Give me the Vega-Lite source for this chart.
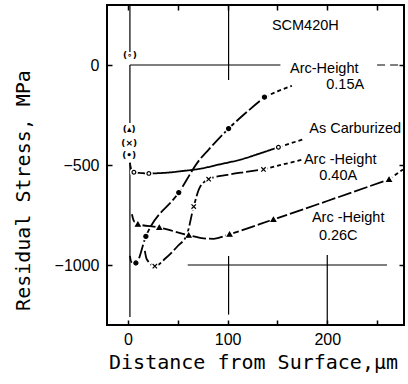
{
  "$schema": "https://vega.github.io/schema/vega-lite/v6.json",
  "width": 297,
  "height": 320,
  "autosize": "none",
  "padding": {"left": 107, "top": 5, "right": 4, "bottom": 59},
  "background": "white",
  "config": {
    "view": {"stroke": "black", "strokeWidth": 2},
    "axis": {"grid": false, "domain": false}
  },
  "datasets": {
    "curves": [
      {"s": "As Carburized", "x": 2, "y": -488, "p": "main", "m": 0},
      {"s": "As Carburized", "x": 3.5, "y": -525, "p": "main", "m": 0},
      {"s": "As Carburized", "x": 6, "y": -536, "p": "main", "m": 1},
      {"s": "As Carburized", "x": 21, "y": -542, "p": "main", "m": 1},
      {"s": "As Carburized", "x": 40, "y": -538, "p": "main", "m": 0},
      {"s": "As Carburized", "x": 55, "y": -530, "p": "main", "m": 0},
      {"s": "As Carburized", "x": 72, "y": -519, "p": "main", "m": 0},
      {"s": "As Carburized", "x": 92, "y": -497, "p": "main", "m": 0},
      {"s": "As Carburized", "x": 113, "y": -473, "p": "main", "m": 0},
      {"s": "As Carburized", "x": 132, "y": -443, "p": "main", "m": 0},
      {"s": "As Carburized", "x": 151, "y": -411, "p": "main", "m": 1},
      {"s": "As Carburized", "x": 151, "y": -411, "p": "tail", "m": 0},
      {"s": "As Carburized", "x": 175, "y": -373, "p": "tail", "m": 0},

      {"s": "0.15A", "x": 2, "y": -954, "p": "main", "m": 0},
      {"s": "0.15A", "x": 3.5, "y": -985, "p": "main", "m": 0},
      {"s": "0.15A", "x": 8, "y": -990, "p": "main", "m": 1},
      {"s": "0.15A", "x": 18, "y": -857, "p": "main", "m": 1},
      {"s": "0.15A", "x": 51, "y": -638, "p": "main", "m": 1},
      {"s": "0.15A", "x": 72, "y": -473, "p": "main", "m": 0},
      {"s": "0.15A", "x": 81, "y": -423, "p": "main", "m": 0},
      {"s": "0.15A", "x": 101, "y": -318, "p": "main", "m": 1},
      {"s": "0.15A", "x": 120, "y": -232, "p": "main", "m": 0},
      {"s": "0.15A", "x": 137, "y": -161, "p": "main", "m": 1},
      {"s": "0.15A", "x": 137, "y": -161, "p": "tail", "m": 0},
      {"s": "0.15A", "x": 150, "y": -132, "p": "tail", "m": 0},
      {"s": "0.15A", "x": 164.5, "y": -104, "p": "tail", "m": 0},

      {"s": "0.40A", "x": 17, "y": -929, "p": "main", "m": 0},
      {"s": "0.40A", "x": 18.8, "y": -970, "p": "main", "m": 0},
      {"s": "0.40A", "x": 27, "y": -1006, "p": "main", "m": 1},
      {"s": "0.40A", "x": 38, "y": -965, "p": "main", "m": 0},
      {"s": "0.40A", "x": 50, "y": -905, "p": "main", "m": 0},
      {"s": "0.40A", "x": 59, "y": -850, "p": "main", "m": 0},
      {"s": "0.40A", "x": 66, "y": -708, "p": "main", "m": 1},
      {"s": "0.40A", "x": 72, "y": -613, "p": "main", "m": 0},
      {"s": "0.40A", "x": 81, "y": -571, "p": "main", "m": 1},
      {"s": "0.40A", "x": 100, "y": -549, "p": "main", "m": 0},
      {"s": "0.40A", "x": 118, "y": -535, "p": "main", "m": 0},
      {"s": "0.40A", "x": 136, "y": -522, "p": "main", "m": 1},
      {"s": "0.40A", "x": 136, "y": -522, "p": "tail", "m": 0},
      {"s": "0.40A", "x": 155, "y": -498, "p": "tail", "m": 0},
      {"s": "0.40A", "x": 175, "y": -473, "p": "tail", "m": 0},

      {"s": "0.26C", "x": 4, "y": -746, "p": "main", "m": 0},
      {"s": "0.26C", "x": 6, "y": -780, "p": "main", "m": 0},
      {"s": "0.26C", "x": 10, "y": -796, "p": "main", "m": 1},
      {"s": "0.26C", "x": 31.5, "y": -812, "p": "main", "m": 1},
      {"s": "0.26C", "x": 45, "y": -830, "p": "main", "m": 0},
      {"s": "0.26C", "x": 61, "y": -851, "p": "main", "m": 1},
      {"s": "0.26C", "x": 76, "y": -867, "p": "main", "m": 0},
      {"s": "0.26C", "x": 86, "y": -869, "p": "main", "m": 0},
      {"s": "0.26C", "x": 102, "y": -846, "p": "main", "m": 1},
      {"s": "0.26C", "x": 146, "y": -772, "p": "main", "m": 1},
      {"s": "0.26C", "x": 200, "y": -680, "p": "main", "m": 0},
      {"s": "0.26C", "x": 262, "y": -572, "p": "main", "m": 1},
      {"s": "0.26C", "x": 262, "y": -572, "p": "tail", "m": 0},
      {"s": "0.26C", "x": 276, "y": -522, "p": "tail", "m": 0}
    ],
    "grid": [
      {"x": 2, "x2": 2, "y": 300, "y2": 65},
      {"x": 2, "x2": 2, "y": 0, "y2": -290},
      {"x": 2, "x2": 2, "y": -490, "y2": -1260},
      {"x": 2, "x2": 153, "y": 0, "y2": 0},
      {"x": 101, "x2": 101, "y": 300, "y2": -75},
      {"x": 60, "x2": 260, "y": -1000, "y2": -1000},
      {"x": 101, "x2": 101, "y": -955, "y2": -1248},
      {"x": 200, "x2": 200, "y": -950, "y2": -1300}
    ],
    "labels": [
      {"x": 178, "y": 194, "t": "SCM420H"},
      {"x": 197, "y": -20, "t": "Arc-Height"},
      {"x": 218, "y": -100, "t": "0.15A"},
      {"x": 228, "y": -318, "t": "As Carburized"},
      {"x": 213, "y": -473, "t": "Arc -Height"},
      {"x": 211, "y": -557, "t": "0.40A"},
      {"x": 221, "y": -766, "t": "Arc -Height"},
      {"x": 211, "y": -856, "t": "0.26C"}
    ],
    "surface": [
      {"x": 2, "y": 50, "t": "(∘)"},
      {"x": 1.3, "y": -320, "t": "(▴)"},
      {"x": 1.3, "y": -390, "t": "(×)"},
      {"x": 1.3, "y": -448, "t": "(•)"}
    ]
  },
  "resolve": {"axis": {"x": "independent", "y": "independent"}},
  "layer": [
    {
      "data": {"name": "grid"},
      "mark": {"type": "rule", "color": "black", "strokeWidth": 1.2},
      "encoding": {
        "x": {
          "field": "x", "type": "quantitative",
          "scale": {"domain": [-21, 277], "nice": false, "zero": false},
          "axis": {
            "orient": "bottom",
            "values": [0, 50, 100, 150, 200, 250],
            "format": "d",
            "labelExpr": "datum.value % 100 === 0 ? datum.label : ''",
            "tickSize": -5, "tickWidth": 1.5, "tickColor": "black",
            "labelPadding": 11, "labelFont": "Liberation Sans", "labelFontSize": 16, "labelColor": "black",
            "title": "Distance from Surface,μm",
            "titleFont": "DejaVu Sans Mono", "titleFontSize": 20, "titleFontWeight": "normal", "titleColor": "black",
            "titleX": 146, "titleY": 43, "titleBaseline": "alphabetic", "titleAlign": "center"
          }
        },
        "x2": {"field": "x2"},
        "y": {
          "field": "y", "type": "quantitative",
          "scale": {"domain": [-1300, 300], "nice": false, "zero": false},
          "axis": {
            "orient": "left",
            "values": [0, -500, -1000],
            "format": "d",
            "tickSize": -5, "tickWidth": 1.5, "tickColor": "black",
            "labelPadding": 13, "labelFont": "Liberation Sans", "labelFontSize": 16, "labelColor": "black",
            "title": "Residual Stress, MPa",
            "titleFont": "DejaVu Sans Mono", "titleFontSize": 20, "titleFontWeight": "normal", "titleColor": "black",
            "titleX": -78, "titleY": 185, "titleAngle": -90, "titleBaseline": "alphabetic", "titleAlign": "center"
          }
        },
        "y2": {"field": "y2"}
      }
    },
    {
      "data": {"values": [{"x": 250, "x2": 277, "y": 0, "y2": 0}]},
      "mark": {"type": "rule", "color": "black", "strokeWidth": 1.2, "strokeDash": [8, 5]},
      "encoding": {
        "x": {"field": "x", "type": "quantitative", "axis": null},
        "x2": {"field": "x2"},
        "y": {"field": "y", "type": "quantitative", "axis": null},
        "y2": {"field": "y2"}
      }
    },
    {
      "data": {"name": "curves"},
      "transform": [{"filter": "datum.p === 'main'"}],
      "mark": {"type": "line", "interpolate": "monotone", "color": "black", "strokeWidth": 1.8},
      "encoding": {
        "x": {
          "field": "x", "type": "quantitative",
          "scale": {"domain": [-21, 277], "nice": false, "zero": false},
          "axis": {"orient": "top", "values": [0, 50, 100, 150, 200, 250], "labels": false, "title": null,
                   "tickSize": -5, "tickWidth": 1.5, "tickColor": "black"}
        },
        "y": {
          "field": "y", "type": "quantitative",
          "scale": {"domain": [-1300, 300], "nice": false, "zero": false},
          "axis": {"orient": "right", "values": [0, -500, -1000], "labels": false, "title": null,
                   "tickSize": -5, "tickWidth": 1.5, "tickColor": "black"}
        },
        "detail": {"field": "s"},
        "strokeDash": {
          "field": "s", "type": "nominal",
          "scale": {"domain": ["As Carburized", "0.15A", "0.40A", "0.26C"], "range": [[1, 0], [14, 3], [12, 3], [14, 3]]},
          "legend": null
        }
      }
    },
    {
      "data": {"name": "curves"},
      "transform": [{"filter": "datum.p === 'tail'"}],
      "mark": {"type": "line", "interpolate": "monotone", "color": "black", "strokeWidth": 1.8, "strokeDash": [4, 3]},
      "encoding": {
        "x": {"field": "x", "type": "quantitative", "axis": null},
        "y": {"field": "y", "type": "quantitative", "axis": null},
        "detail": {"field": "s"}
      }
    },
    {
      "data": {"name": "curves"},
      "transform": [{"filter": "datum.m === 1"}],
      "mark": {"type": "point", "shape": "circle", "filled": true, "color": "white", "opacity": 1, "size": 60},
      "encoding": {
        "x": {"field": "x", "type": "quantitative", "axis": null},
        "y": {"field": "y", "type": "quantitative", "axis": null}
      }
    },
    {
      "data": {"name": "curves"},
      "transform": [{"filter": "datum.m === 1"}],
      "mark": {"type": "point", "filled": true, "stroke": "black", "strokeWidth": 1.2, "opacity": 1},
      "encoding": {
        "x": {"field": "x", "type": "quantitative", "axis": null},
        "y": {"field": "y", "type": "quantitative", "axis": null},
        "shape": {
          "field": "s", "type": "nominal",
          "scale": {"domain": ["As Carburized", "0.15A", "0.40A", "0.26C"], "range": ["circle", "circle", "M-1,-1L1,1M-1,1L1,-1", "triangle-up"]},
          "legend": null
        },
        "fill": {
          "field": "s", "type": "nominal",
          "scale": {"domain": ["As Carburized", "0.15A", "0.40A", "0.26C"], "range": ["white", "black", "black", "black"]},
          "legend": null
        },
        "size": {
          "field": "s", "type": "nominal",
          "scale": {"domain": ["As Carburized", "0.15A", "0.40A", "0.26C"], "range": [14, 22, 22, 26]},
          "legend": null
        }
      }
    },
    {
      "data": {"name": "labels"},
      "mark": {"type": "text", "font": "Liberation Sans", "fontSize": 14.5, "color": "black", "align": "center", "baseline": "middle"},
      "encoding": {
        "x": {"field": "x", "type": "quantitative", "axis": null},
        "y": {"field": "y", "type": "quantitative", "axis": null},
        "text": {"field": "t"}
      }
    },
    {
      "data": {"name": "surface"},
      "mark": {"type": "text", "font": "DejaVu Sans", "fontSize": 9, "fontWeight": "bold", "color": "black", "align": "center", "baseline": "middle"},
      "encoding": {
        "x": {"field": "x", "type": "quantitative", "axis": null},
        "y": {"field": "y", "type": "quantitative", "axis": null},
        "text": {"field": "t"}
      }
    }
  ]
}
